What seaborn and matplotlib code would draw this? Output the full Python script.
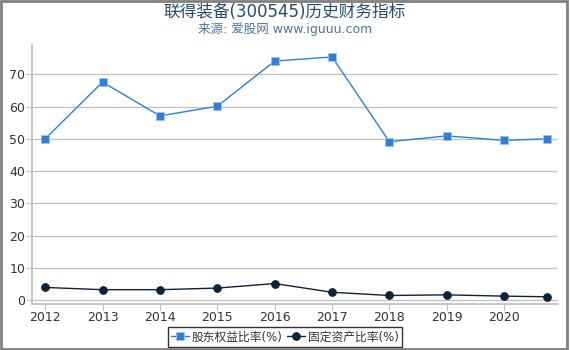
import matplotlib
matplotlib.use('Agg')
import matplotlib.pyplot as plt
import seaborn as sns
import pandas as pd

# 数据
年份 = [2012, 2013, 2014, 2015, 2016, 2017, 2018, 2019, 2020, 2020.75]
股东权益比率 = [50.0, 67.6, 57.1, 60.1, 74.1, 75.4, 49.1, 50.9, 49.5, 50.0]
固定资产比率 = [3.9, 3.2, 3.2, 3.7, 5.1, 2.4, 1.4, 1.6, 1.2, 1.0]
刻度年份 = [2012, 2013, 2014, 2015, 2016, 2017, 2018, 2019, 2020]
系列名 = ['股东权益比率(%)', '固定资产比率(%)']

sns.set_theme(style='white')
plt.rcParams['font.family'] = ['DejaVu Sans', 'Noto Sans CJK SC']
plt.rcParams['axes.unicode_minus'] = False

df = pd.DataFrame({'年份': 年份, 系列名[0]: 股东权益比率, 系列名[1]: 固定资产比率})

fig = plt.figure(figsize=(5.7, 3.5), dpi=100)
ax = fig.add_axes([32 / 570, 46 / 350, 526 / 570, 259 / 350])

sns.lineplot(data=df, x='年份', y=系列名[0], ax=ax, color='#2f7ed8', marker='s',
             markersize=5.5, linewidth=1, markeredgecolor='#9cc3ee', markeredgewidth=0.6,
             label=系列名[0])
sns.lineplot(data=df, x='年份', y=系列名[1], ax=ax, color='#0d233a', marker='o',
             markersize=5.5, linewidth=1, markeredgecolor='#0d233a',
             label=系列名[1])

ax.set_xlim(2011.77, 2020.94)
ax.set_ylim(-1.24, 79.1)
ax.set_xticks(刻度年份)
ax.set_xticklabels([str(y) for y in 刻度年份])
ax.set_yticks(range(0, 80, 10))
ax.set_xlabel('')
ax.set_ylabel('')
ax.yaxis.grid(True, color='#c0c0c0', linewidth=0.9)
ax.set_axisbelow(True)
for s in ['top', 'right']:
    ax.spines[s].set_visible(False)
ax.spines['left'].set_color('#c0c0c0')
ax.spines['bottom'].set_color('#c0c0c0')
ax.tick_params(axis='both', labelsize=9, colors='#c0c0c0', labelcolor='#333333',
               length=4, width=0.8, pad=1, direction='out', bottom=True, left=True)

fig.text(0.5, 0.965, '联得装备(300545)历史财务指标', ha='center', va='center',
         fontsize=12, color='#274b6d')
fig.text(0.5, 0.918, '来源: 爱股网 www.iguuu.com', ha='center', va='center',
         fontsize=9, color='#4d759e')

leg = ax.legend(loc='center', bbox_to_anchor=(285 / 570, 13 / 350),
                bbox_transform=fig.transFigure, ncol=2, fontsize=8.5,
                frameon=True, fancybox=False, handlelength=1.5, handletextpad=0.25,
                columnspacing=0.4, borderpad=0.3, borderaxespad=0, labelcolor='#333333')
leg.get_frame().set_edgecolor('black')
leg.get_frame().set_linewidth(1)

# 外框
fig.patches.append(plt.Rectangle((0.002, 0.003), 0.993, 0.994, transform=fig.transFigure,
                                 fill=False, edgecolor='#808080', linewidth=2))

fig.savefig('out.png', dpi=100)
